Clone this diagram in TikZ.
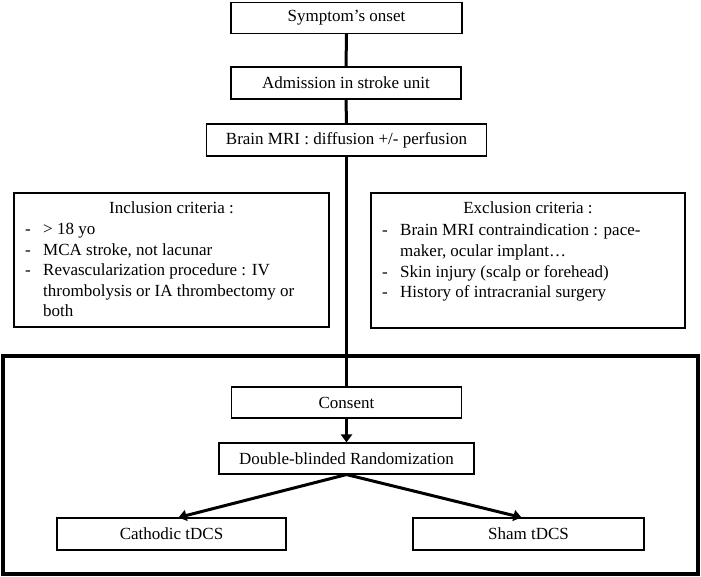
\documentclass[tikz,border=0pt]{standalone}
\usepackage{fontspec}
\setmainfont{Liberation Serif}
\usetikzlibrary{arrows.meta}
\begin{document}
\begin{tikzpicture}[x=1pt,y=-1pt,font=\fontsize{17}{20}\selectfont]
\tikzset{
  box/.style={draw,line width=1.1pt,inner sep=0pt,align=center},
  conn/.style={line width=3pt},
  arr/.style={line width=3pt,-{Triangle[length=8pt,width=11pt]}},
  itm/.style={inner sep=0pt,anchor=base west},
  ttl/.style={inner sep=0pt,anchor=base}
}
\useasboundingbox (0,0) rectangle (701,577);
\node[box,minimum width=231pt,minimum height=31pt] (sym) at (346.5,18) {Symptom’s onset};
\node[box,minimum width=230pt,minimum height=32pt] (adm) at (346,83) {Admission in stroke unit};
\node[box,minimum width=280pt,minimum height=32pt] (mri) at (346.5,140) {Brain MRI : diffusion +/- perfusion};
\node[box,minimum width=315pt,minimum height=134pt] (inc) at (171.5,260) {};
\node[box,minimum width=314pt,minimum height=135pt] (exc) at (528,260.5) {};
\node[draw,line width=3.2pt,minimum width=695pt,minimum height=218pt,inner sep=0pt] (trial) at (350.5,465) {};
\node[box,minimum width=230pt,minimum height=31pt] (cons) at (346.5,402.5) {Consent};
\node[box,minimum width=255pt,minimum height=31pt] (rand) at (346.5,458.5) {Double-blinded Randomization};
\node[box,minimum width=229pt,minimum height=32pt] (cath) at (171.5,534) {Cathodic tDCS};
\node[box,minimum width=231pt,minimum height=32pt] (sham) at (528.5,534) {Sham tDCS};
% inclusion text
\node[ttl] (inct) at (171.5,214) {Inclusion criteria :};
\node[itm] (incd1) at (25,235) {-};
\node[itm] (inc1) at (43,235) {> 18 yo};
\node[itm] (incd2) at (25,256) {-};
\node[itm] (inc2) at (43,256) {MCA stroke, not lacunar};
\node[itm] (incd3) at (25,276) {-};
\node[itm] (inc3) at (43,276) {Revascularization procedure : IV};
\node[itm] (inc3b) at (43,296) {thrombolysis or IA thrombectomy or};
\node[itm] (inc3c) at (43,316) {both};
% exclusion text
\node[ttl] (exct) at (528,214) {Exclusion criteria :};
\node[itm] (excd1) at (382,236) {-};
\node[itm] (exc1) at (400,236) {Brain MRI contraindication : pace-};
\node[itm] (exc1b) at (400,257) {maker, ocular implant…};
\node[itm] (excd2) at (382,277) {-};
\node[itm] (exc2) at (400,277) {Skin injury (scalp or forehead)};
\node[itm] (excd3) at (382,297) {-};
\node[itm] (exc3) at (400,297) {History of intracranial surgery};
% connectors
\draw[conn] (sym.south) -- (adm.north);
\draw[conn] (adm.south) -- (mri.north);
\draw[conn] (mri.south) -- (cons.north);
\draw[arr] (cons.south) -- (rand.north);
\coordinate (cathin) at ([xshift=7pt]cath.north);
\coordinate (shamin) at ([xshift=-7pt]sham.north);
\draw[arr] (rand.south) -- (cathin);
\draw[arr] (rand.south) -- (shamin);
\end{tikzpicture}
\end{document}
